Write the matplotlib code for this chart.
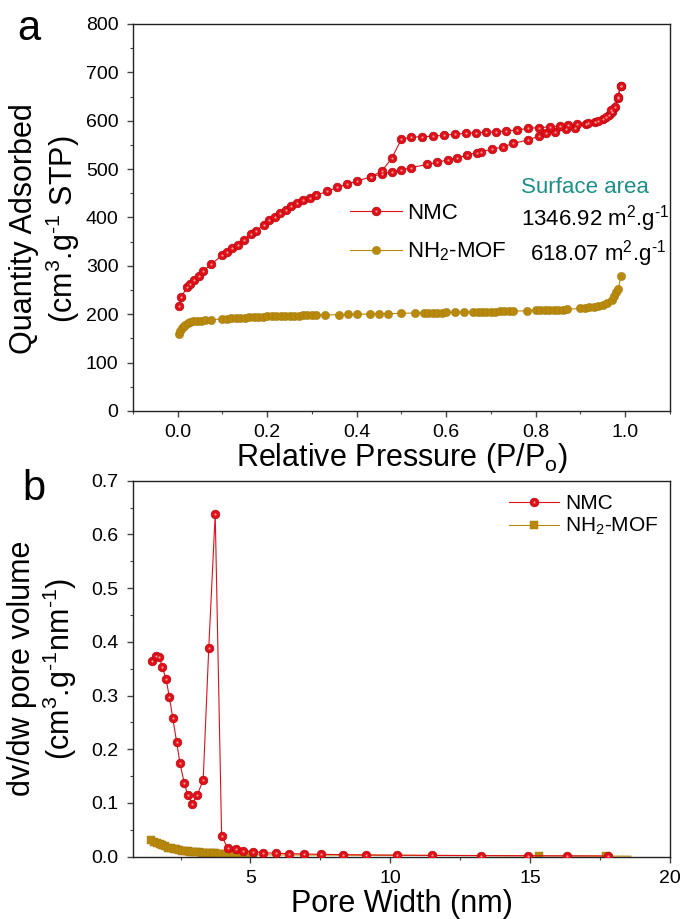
import matplotlib
matplotlib.use("Agg")
import matplotlib.pyplot as plt
from matplotlib.ticker import MultipleLocator, FormatStrFormatter

plt.rcParams["font.family"] = ["Liberation Sans", "DejaVu Sans"]
plt.rcParams["mathtext.fontset"] = "custom"
plt.rcParams["mathtext.rm"] = "Liberation Sans"
plt.rcParams["mathtext.it"] = "Liberation Sans:italic"

# ---- panel a: N2 isotherms ----
nmc_ads_p = [0.003, 0.008, 0.021, 0.027, 0.037, 0.047, 0.057, 0.075, 0.100, 0.109,
             0.122, 0.135, 0.148, 0.164, 0.176, 0.192, 0.205, 0.217, 0.229, 0.241,
             0.254, 0.266, 0.280, 0.295, 0.310, 0.334, 0.356, 0.379, 0.400, 0.431,
             0.456, 0.478, 0.500, 0.522, 0.558, 0.580, 0.603, 0.624, 0.647, 0.668,
             0.678, 0.702, 0.727, 0.749, 0.782, 0.807, 0.824, 0.844, 0.868, 0.888,
             0.912, 0.932, 0.951, 0.964, 0.971, 0.978, 0.983, 0.990]
nmc_ads_q = [218, 236, 256, 263, 271, 280, 289, 304, 322, 328,
             337, 344, 354, 365, 373, 385, 394, 401, 409, 416,
             423, 430, 436, 441, 446, 454, 462, 469, 475, 484,
             490, 494, 498, 503, 510, 514, 519, 523, 529, 534,
             536, 541, 546, 553, 560, 568, 574, 577, 582, 586,
             593, 598, 604, 612, 619, 629, 647, 672]
nmc_des_p = [0.990, 0.983, 0.969, 0.956, 0.939, 0.917, 0.893, 0.873, 0.854, 0.832,
             0.807, 0.782, 0.759, 0.734, 0.712, 0.690, 0.666, 0.644, 0.620, 0.595,
             0.571, 0.546, 0.522, 0.500, 0.478, 0.456, 0.431]
nmc_des_q = [672, 649, 622, 607, 600, 596, 593, 591, 589, 587,
             586, 584, 581, 579, 577, 576, 575, 574, 572, 570,
             568, 567, 566, 562, 522, 496, 484]

mof_p = [0.003, 0.006, 0.009, 0.013, 0.017, 0.022, 0.028, 0.035, 0.043, 0.052,
         0.062, 0.075, 0.10, 0.11, 0.12, 0.13, 0.14, 0.15, 0.16, 0.17,
         0.18, 0.19, 0.20, 0.21, 0.22, 0.23, 0.24, 0.25, 0.26, 0.27,
         0.28, 0.29, 0.30, 0.31, 0.33, 0.36, 0.38, 0.40, 0.43, 0.45,
         0.47, 0.50, 0.53, 0.55, 0.56, 0.57, 0.58, 0.59, 0.60, 0.62,
         0.64, 0.66, 0.67, 0.68, 0.69, 0.70, 0.71, 0.72, 0.73, 0.74,
         0.75, 0.78, 0.80, 0.81, 0.82, 0.83, 0.84, 0.85, 0.86, 0.87,
         0.90, 0.91, 0.92, 0.93, 0.94, 0.95, 0.96, 0.97, 0.975, 0.98,
         0.985, 0.99]
mof_q = [159, 165, 171, 175, 178, 181, 183, 185, 186, 187,
         188, 189, 190, 191, 191.5, 192, 192.5, 193, 193.5, 194,
         194.5, 195, 195.5, 196, 196, 196.5, 196.5, 197, 197, 197,
         197.5, 197.5, 198, 198, 198.5, 199, 199.5, 200, 200.5, 201,
         201, 202, 202.5, 203, 203, 203, 203.5, 203.5, 204, 204,
         204.5, 205, 205, 205, 205.5, 205.5, 205.5, 206, 206, 206,
         206.5, 207, 208, 208, 208.5, 208.5, 209, 209, 209.5, 210,
         212, 213, 214, 215, 217, 220, 224, 230, 237, 246,
         253, 279]

# ---- panel b: pore size distribution ----
nmc_w = [1.47, 1.61, 1.74, 1.85, 1.98, 2.10, 2.22, 2.36, 2.48, 2.63,
         2.76, 2.92, 3.10, 3.31, 3.51, 3.74, 3.97, 4.19, 4.47, 4.74,
         5.10, 5.46, 5.90, 6.38, 6.91, 7.52, 8.30, 9.13, 10.23, 11.50,
         13.23, 14.91, 16.33, 17.77]
nmc_dv = [0.365, 0.374, 0.372, 0.353, 0.331, 0.298, 0.259, 0.214, 0.174, 0.138,
          0.114, 0.099, 0.115, 0.143, 0.389, 0.638, 0.0385, 0.0156, 0.0138, 0.0112,
          0.0093, 0.0075, 0.0063, 0.0058, 0.0050, 0.0044, 0.0038, 0.0033, 0.0029, 0.0025,
          0.0021, 0.0018, 0.0016, 0.0014]
mof_w = [1.45, 1.55, 1.65, 1.75, 1.85, 1.95, 2.05, 2.15, 2.25, 2.35,
         2.45, 2.55, 2.65, 2.75, 2.85, 2.95, 3.05, 3.15, 3.25, 3.35,
         3.45, 3.55, 3.65, 3.75, 3.85, 3.95, 4.10, 4.25, 4.40, 4.55,
         4.70, 4.90, 5.10, 15.3, 17.7, 18.6]
mof_dv = [0.031, 0.028, 0.025, 0.023, 0.021, 0.019, 0.017, 0.0157, 0.0145, 0.0134,
          0.0124, 0.0115, 0.0107, 0.0100, 0.0094, 0.0089, 0.0084, 0.0080, 0.0076, 0.0072,
          0.0069, 0.0066, 0.0063, 0.0060, 0.0058, 0.0056, 0.0053, 0.0050, 0.0047, 0.0044,
          0.0041, 0.0038, 0.0035, 0.0015, 0.0012, 0.0010]

labels = ["NMC", "NH$_2$-MOF"]
areas = ["1346.92 m$^2$.g$^{\\text{-1}}$", "618.07 m$^2$.g$^{\\text{-1}}$"]

red = "#e01019"
red_edge = "#b0000a"
red_hi = "#ff9a9a"
gold = "#b8890c"
gold_edge = "#a07608"
teal = "#1a9088"


def style_axes(ax):
    for s in ax.spines.values():
        s.set_linewidth(1.0)
        s.set_color("#222222")
    ax.tick_params(which="both", direction="out", labelsize=14, top=False, right=False,
                   color="#444444")
    ax.tick_params(which="major", length=4.5, width=1.0, pad=5)
    ax.tick_params(which="minor", length=2.5, width=0.8)
    ax.tick_params(axis="y", pad=6)


fig = plt.figure(figsize=(6.83, 9.19), dpi=100)
ax1 = fig.add_axes([0.1947, 0.5528, 0.7862, 0.4211])
ax2 = fig.add_axes([0.1947, 0.0678, 0.7862, 0.4091])

# panel a
l_ads, = ax1.plot(nmc_ads_p, nmc_ads_q, "-o", color=red, lw=0.8, ms=6.3,
                  mfc=red, mec=red_edge, mew=0.4, zorder=3)
h_ads, = ax1.plot(nmc_ads_p, nmc_ads_q, "o", ms=1.6, mfc=red_hi, mec="none", zorder=4)
ax1.plot(nmc_des_p, nmc_des_q, "-o", color=red, lw=0.8, ms=6.3,
         mfc=red, mec=red_edge, mew=0.4, zorder=3)
ax1.plot(nmc_des_p, nmc_des_q, "o", ms=1.6, mfc=red_hi, mec="none", zorder=4)
l_mof, = ax1.plot(mof_p, mof_q, "-o", color=gold, lw=0.8, ms=6.0,
                  mfc=gold, mec=gold_edge, mew=0.3, zorder=2)

ax1.set_xlim(-0.1, 1.1)
ax1.set_ylim(0, 800)
ax1.xaxis.set_major_locator(MultipleLocator(0.2))
ax1.xaxis.set_minor_locator(MultipleLocator(0.1))
ax1.yaxis.set_major_locator(MultipleLocator(100))
ax1.yaxis.set_minor_locator(MultipleLocator(50))
ax1.xaxis.set_major_formatter(FormatStrFormatter("%.1f"))
style_axes(ax1)
ax1.set_xlabel("Relative Pressure (P/P$_\\mathrm{o}$)", fontsize=22)
ax1.xaxis.set_label_coords(0.5, -0.078)
ax1.xaxis.label.set_va("top")
ax1.set_ylabel("Quantity Adsorbed\n(cm$^3$.g$^{\\text{-1}}$ STP)", fontsize=22,
               linespacing=1.15)
ax1.yaxis.set_label_coords(-0.095, 0.47)

ax1.legend([(l_ads, h_ads), l_mof], labels, loc="upper left",
           bbox_to_anchor=(0.405, 0.538), frameon=False, fontsize=16,
           handlelength=2.3, handletextpad=0.25, labelspacing=0.75,
           borderpad=0, borderaxespad=0)
ax1.text(0.722, 0.578, "Surface area", transform=ax1.transAxes, fontsize=16,
         color=teal, va="center", ha="left")
ax1.text(0.722, 0.498, areas[0], transform=ax1.transAxes, fontsize=16,
         va="center", ha="left")
ax1.text(0.740, 0.407, areas[1], transform=ax1.transAxes, fontsize=16,
         va="center", ha="left")

# panel b
l2_nmc, = ax2.plot(nmc_w, nmc_dv, "-o", color=red, lw=0.8, ms=6.3,
                   mfc=red, mec=red_edge, mew=0.4, zorder=3)
h2_nmc, = ax2.plot(nmc_w, nmc_dv, "o", ms=1.6, mfc=red_hi, mec="none", zorder=4)
l2_mof, = ax2.plot(mof_w, mof_dv, "-s", color=gold, lw=0.8, ms=5.8,
                   mfc=gold, mec=gold_edge, mew=0.3, zorder=2,
                   markevery=list(range(len(mof_w) - 1)))
ax2.set_xlim(0.8, 20)
ax2.set_ylim(0, 0.7)
ax2.xaxis.set_major_locator(MultipleLocator(5))
ax2.xaxis.set_minor_locator(MultipleLocator(2.5))
ax2.yaxis.set_major_locator(MultipleLocator(0.1))
ax2.yaxis.set_minor_locator(MultipleLocator(0.05))
ax2.yaxis.set_major_formatter(FormatStrFormatter("%.1f"))
style_axes(ax2)
ax2.set_xlabel("Pore Width (nm)", fontsize=22)
ax2.xaxis.set_label_coords(0.5, -0.085)
ax2.xaxis.label.set_va("top")
ax2.set_ylabel("dv/dw pore volume\n(cm$^3$.g$^{\\text{-1}}$nm$^{\\text{-1}}$)", fontsize=22,
               linespacing=1.15)
ax2.yaxis.set_label_coords(-0.1, 0.5)

ax2.legend([(l2_nmc, h2_nmc), l2_mof], labels, loc="upper left",
           bbox_to_anchor=(0.70, 0.965), frameon=False, fontsize=15,
           handlelength=2.4, handletextpad=0.3, labelspacing=0.15,
           borderpad=0, borderaxespad=0)

fig.text(0.025, 0.99, "a", fontsize=30, va="top", ha="left")
fig.text(0.033, 0.49, "b", fontsize=30, va="top", ha="left")

fig.savefig("out.png", dpi=100)
